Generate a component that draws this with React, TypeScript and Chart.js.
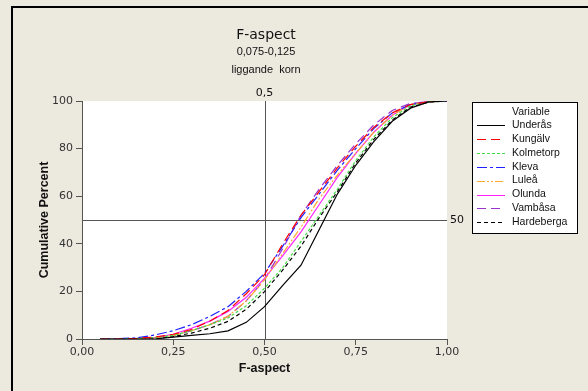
import React, { useEffect, useRef } from "react";
import { Chart, registerables } from "chart.js";

Chart.register(...registerables);

const titleText = "F-aspect";
const subtitleLines = ["0,075-0,125", "liggande  korn"];
const xAxisTitle = "F-aspect";
const yAxisTitle = "Cumulative Percent";
const legendTitle = "Variable";
const refX = 0.5;
const refY = 50;
const refXLabel = "0,5";
const refYLabel = "50";

const xValues = [0.05, 0.1, 0.15, 0.2, 0.25, 0.3, 0.35, 0.4, 0.45, 0.5, 0.55, 0.6, 0.65, 0.7, 0.75, 0.8, 0.85, 0.9, 0.95, 1.0];

const underas = [0, 0, 0, 0, 0.8, 1.5, 2.2, 3.4, 7, 13.6, 22.5, 31, 46, 61, 73, 83, 91.5, 97, 99.6, 100];
const kungalv = [0, 0, 0.3, 0.8, 2, 4, 7.5, 12, 19, 27, 40, 52, 62, 72, 81, 89, 95, 98.5, 99.7, 100];
const kolmetorp = [0, 0, 0.2, 0.6, 1.5, 3.5, 6, 8.8, 14, 21.3, 30, 41, 52, 63, 75, 85, 93, 98, 99.6, 100];
const kleva = [0, 0.1, 0.5, 1.7, 3.5, 6, 9.5, 13.6, 20, 27.6, 39, 51, 61, 71, 80, 88.5, 95, 98.5, 99.7, 100];
const lulea = [0, 0, 0.2, 0.6, 1.5, 3.5, 6, 9.5, 16, 24.8, 36, 47, 59, 69, 78, 87, 94, 98.5, 99.7, 100];
const olunda = [0, 0, 0.2, 0.7, 2, 4.5, 7.5, 11.6, 17.5, 25.5, 35, 45, 56.5, 68, 78, 87, 94, 98.5, 99.7, 100];
const vambasa = [0, 0, 0.2, 0.6, 1.5, 3.5, 6, 9.5, 16, 25, 38, 52, 63, 73, 82, 90, 96, 99, 99.8, 100];
const hardeberga = [0, 0, 0, 0.3, 1, 2.5, 4.5, 7.4, 12.5, 19.9, 29, 39, 51, 62, 74, 84, 92, 97.5, 99.5, 100];

const seriesNames = ["Underås", "Kungälv", "Kolmetorp", "Kleva", "Luleå", "Olunda", "Vambåsa", "Hardeberga"];
const seriesValues = [underas, kungalv, kolmetorp, kleva, lulea, olunda, vambasa, hardeberga];
const seriesColors = ["#000000", "#FF0000", "#44DD44", "#1F1FFF", "#FFA830", "#FF22FF", "#9933CC", "#000000"];
const seriesDashes: number[][] = [[], [9, 5], [3, 2], [10, 3, 3, 3], [8, 2, 2, 2, 2, 2], [], [9, 5], [4, 3]];

const BG = "#ECE9DF";

export default function App() {
  const ref = useRef<HTMLCanvasElement | null>(null);

  useEffect(() => {
    document.body.style.margin = "0";
    const canvas = ref.current;
    if (!canvas) return;

    const decor = {
      id: "decor",
      beforeDraw(chart: any) {
        const { ctx, chartArea } = chart;
        ctx.save();
        ctx.fillStyle = BG;
        ctx.fillRect(0, 0, chart.width, chart.height);
        ctx.fillStyle = "#FFFFFF";
        ctx.fillRect(chartArea.left, chartArea.top, chartArea.right - chartArea.left, chartArea.bottom - chartArea.top);
        ctx.strokeStyle = "#000";
        ctx.lineWidth = 2;
        ctx.beginPath();
        ctx.moveTo(12, chart.height);
        ctx.lineTo(12, 7);
        ctx.lineTo(chart.width, 7);
        ctx.stroke();
        ctx.restore();
      },
      beforeDatasetsDraw(chart: any) {
        const { ctx, chartArea, scales } = chart;
        const xs = scales.x;
        const ys = scales.y;
        ctx.save();
        ctx.strokeStyle = "#555";
        ctx.lineWidth = 1;
        const px = Math.round(xs.getPixelForValue(refX)) + 0.5;
        const py = Math.round(ys.getPixelForValue(refY)) + 0.5;
        ctx.beginPath();
        ctx.moveTo(px, chartArea.top);
        ctx.lineTo(px, chartArea.bottom);
        ctx.moveTo(chartArea.left, py);
        ctx.lineTo(chartArea.right, py);
        ctx.stroke();
        ctx.restore();
      },
      afterDraw(chart: any) {
        const { ctx, chartArea, scales } = chart;
        const xs = scales.x;
        const ys = scales.y;
        ctx.save();
        ctx.fillStyle = "#111";
        ctx.textAlign = "center";
        ctx.textBaseline = "middle";
        ctx.font = "14px 'DejaVu Sans'";
        ctx.fillText(titleText, 266, 35);
        ctx.font = "11px 'Liberation Sans'";
        ctx.fillText(subtitleLines[0], 266, 52);
        ctx.fillText(subtitleLines[1], 266, 70);
        ctx.font = "11px 'DejaVu Sans'";
        ctx.fillText(refXLabel, xs.getPixelForValue(refX), 93);
        ctx.textAlign = "left";
        ctx.fillText(refYLabel, chartArea.right + 3, ys.getPixelForValue(refY));
        ctx.textAlign = "center";
        ctx.font = "bold 12.5px 'Liberation Sans'";
        ctx.fillText(xAxisTitle, (chartArea.left + chartArea.right) / 2, 369);
        ctx.save();
        ctx.translate(45, (chartArea.top + chartArea.bottom) / 2);
        ctx.rotate(-Math.PI / 2);
        ctx.fillText(yAxisTitle, 0, 0);
        ctx.restore();
        const lx = 472, ly = 102, lw = 105, lh = 131;
        ctx.fillStyle = "#FFF";
        ctx.fillRect(lx, ly, lw, lh);
        ctx.strokeStyle = "#000";
        ctx.lineWidth = 1;
        ctx.strokeRect(lx + 0.5, ly + 0.5, lw, lh);
        ctx.font = "10.5px 'Liberation Sans'";
        ctx.fillStyle = "#111";
        ctx.textAlign = "left";
        ctx.fillText(legendTitle, 512, 112);
        seriesNames.forEach((name, i) => {
          const y = 125 + i * 13.9;
          ctx.strokeStyle = seriesColors[i];
          ctx.lineWidth = 1;
          ctx.setLineDash(seriesDashes[i]);
          ctx.beginPath();
          ctx.moveTo(477, Math.round(y) + 0.5);
          ctx.lineTo(505, Math.round(y) + 0.5);
          ctx.stroke();
          ctx.setLineDash([]);
          ctx.fillStyle = "#111";
          ctx.fillText(name, 512, y);
        });
        ctx.restore();
      },
    };

    const chart = new Chart(canvas, {
      type: "scatter",
      data: {
        datasets: seriesNames.map((name, i) => ({
          label: name,
          data: xValues.map((x, j) => ({ x, y: seriesValues[i][j] })),
          showLine: true,
          borderColor: seriesColors[i],
          backgroundColor: seriesColors[i],
          borderWidth: 1.2,
          borderDash: seriesDashes[i],
          pointRadius: 0,
          tension: 0,
          fill: false,
        })),
      },
      options: {
        animation: false,
        responsive: false,
        devicePixelRatio: 1,
        layout: { padding: { left: 12, top: 101, right: 141, bottom: 0 } },
        plugins: { legend: { display: false }, tooltip: { enabled: false }, title: { display: false } },
        scales: {
          x: {
            type: "linear",
            min: 0,
            max: 1,
            afterFit: (s: any) => { s.height = 52; },
            ticks: {
              stepSize: 0.25,
              color: "#333",
              font: { family: "'DejaVu Sans'", size: 11 },
              padding: 1,
              maxRotation: 0,
              callback: (v: any) => Number(v).toFixed(2).replace(".", ","),
            },
            grid: { display: true, drawOnChartArea: false, drawTicks: true, tickLength: 6, color: "#555" },
            border: { display: true, color: "#555" },
          },
          y: {
            type: "linear",
            min: 0,
            max: 100,
            afterFit: (s: any) => { s.width = 70; },
            ticks: {
              stepSize: 20,
              color: "#333",
              font: { family: "'DejaVu Sans'", size: 11 },
              padding: 3,
            },
            grid: { display: true, drawOnChartArea: false, drawTicks: true, tickLength: 6, color: "#555" },
            border: { display: true, color: "#555" },
          },
        },
      },
      plugins: [decor],
    } as any);

    return () => chart.destroy();
  }, []);

  return (
    <div style={{ position: "fixed", left: 0, top: 0, width: 588, height: 391, background: BG }}>
      <canvas ref={ref} width={588} height={391} style={{ display: "block", width: 588, height: 391 }} />
    </div>
  );
}
